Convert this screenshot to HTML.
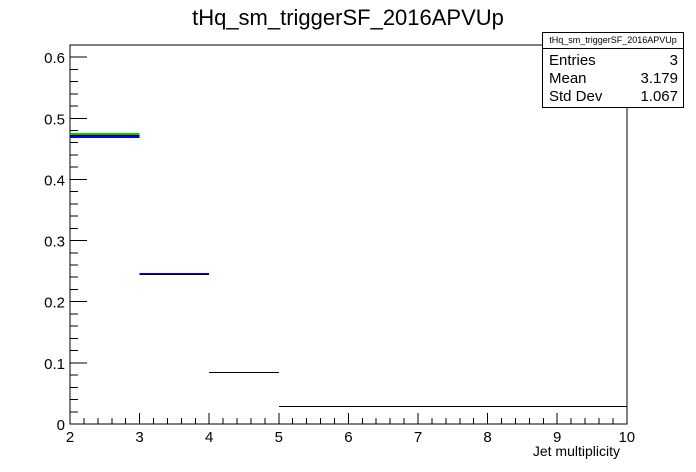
<!DOCTYPE html>
<html><head><meta charset="utf-8"><style>
body{margin:0;background:#fff;}
svg{display:block;font-family:"Liberation Sans",Arial,sans-serif;}
line,rect{shape-rendering:crispEdges;}
</style></head><body>
<svg id="c" width="696" height="472">
<text x="348" y="25" font-size="22" text-anchor="middle">tHq_sm_triggerSF_2016APVUp</text>
<rect x="70" y="45" width="557" height="379" fill="none" stroke="#000" stroke-width="1"/>
<g id="ticks"></g>
<g id="bars"></g>
<text x="620" y="456" font-size="14" text-anchor="end">Jet multiplicity</text>
<g>
<rect x="542.5" y="32.5" width="141" height="75" fill="#fff" stroke="#000"/>
<line x1="542.5" y1="48.5" x2="683.5" y2="48.5" stroke="#000"/>
<text x="613" y="43" font-size="9" text-anchor="middle">tHq_sm_triggerSF_2016APVUp</text>
<text x="549" y="65" font-size="15">Entries</text><text x="678" y="65" font-size="15" text-anchor="end">3</text>
<text x="549" y="83" font-size="15">Mean</text><text x="678" y="83" font-size="15" text-anchor="end">3.179</text>
<text x="549" y="101" font-size="15">Std Dev</text><text x="678" y="101" font-size="15" text-anchor="end">1.067</text>
</g>
</svg>
<script>
const binEdges=[2,3,4,5,10];
const blackValues=[0.472,0.246,0.085,0.0295];
const blueValues=[0.470,0.246,null,null];
const greenValues=[0.474,null,null,null];
const xTicks=[2,3,4,5,6,7,8,9,10];
const yTicks=[0,0.1,0.2,0.3,0.4,0.5,0.6];
const yTickLabels=["0","0.1","0.2","0.3","0.4","0.5","0.6"];
const NS="http://www.w3.org/2000/svg";
const X=v=>70+(v-2)*69.6;
const Y=v=>424-v*611.5;
function mk(tag,attrs,parent){const e=document.createElementNS(NS,tag);for(const k in attrs)e.setAttribute(k,attrs[k]);parent.appendChild(e);return e;}
const tg=document.getElementById('ticks');
for(let i=0;i<xTicks.length;i++){
  const x=X(xTicks[i]);
  const l=mk('line',{x1:x,y1:424,x2:x,y2:413,stroke:'#000'},tg);
  
  
  const t=mk('text',{x:x,y:442,'font-size':15,'text-anchor':'middle'},tg);
  t.textContent=xTicks[i];
  
  
  if(i<xTicks.length-1){for(let j=1;j<5;j++){const xm=X(xTicks[i]+j*0.2);
    const m=mk('line',{x1:xm,y1:424,x2:xm,y2:418,stroke:'#000'},tg);
    
    }}
}
for(let i=0;i<yTicks.length;i++){
  const y=Y(yTicks[i]);
  const l=mk('line',{x1:70,y1:y,x2:87,y2:y,stroke:'#000'},tg);
  
  
  const t=mk('text',{x:65,y:y+6,'font-size':15,'text-anchor':'end'},tg);
  t.textContent=yTickLabels[i];
  
  
  for(let j=1;j<5;j++){const v=yTicks[i]+j*0.02;if(v>0.62)break;const ym=Y(v);
    const m=mk('line',{x1:70,y1:ym,x2:78,y2:ym,stroke:'#000'},tg);
    
    }
}
const bg=document.getElementById('bars');
function series(vals,color,w,name){
  for(let i=0;i<vals.length;i++){if(vals[i]==null)continue;
    const y=Math.round(Y(vals[i]))+(w===1?0.5:0);
    const l=mk('line',{x1:X(binEdges[i]),y1:y,x2:X(binEdges[i+1]),y2:y,stroke:color,'stroke-width':w},bg);
    
    }
}
series(greenValues,'#00cc00',2,'green-bin');
series(blueValues,'#0000ff',2,'blue-bin');
series(blackValues,'#000',1,'black-bin');
</script>
</body></html>
